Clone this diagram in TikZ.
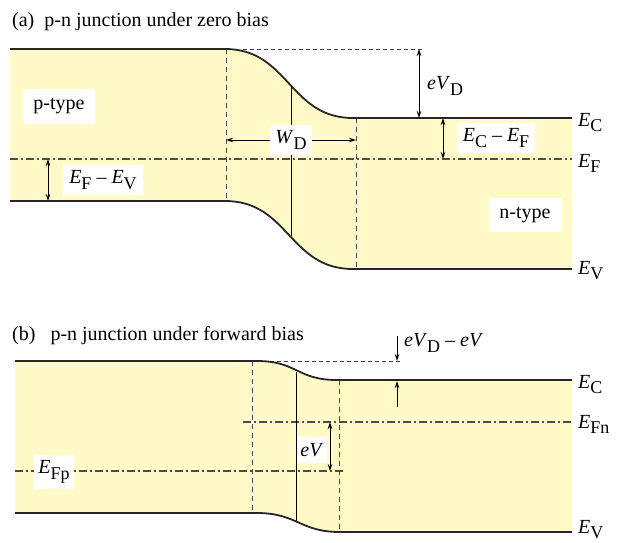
\documentclass[tikz,border=0pt]{standalone}
\usepackage{fontspec}
\setmainfont{Liberation Serif}[Ligatures=TeX]
\usepackage{xcolor}
\usetikzlibrary{arrows.meta}

\definecolor{bandfill}{RGB}{255,250,200}
\newcommand{\lvl}[2]{\textit{#1}\raisebox{-0.6ex}{\fontsize{18}{18}\selectfont #2}}

\begin{document}
\begin{tikzpicture}[x=1pt, y=-1pt,
  every node/.style={font=\rmfamily\fontsize{20}{23}\selectfont, inner sep=0pt},
  band/.style={line width=1.8pt, black!85},
  level/.style={anchor=base west},
  lbl/.style={fill=white, inner xsep=6pt, inner ysep=6pt},
  guide/.style={dash pattern=on 5pt off 4pt, line width=0.8pt, black!70},
  ref/.style={dash pattern=on 4pt off 3pt, line width=0.8pt, black!75},
  fermi/.style={dash pattern=on 8pt off 3pt on 2pt off 3pt, line width=1.1pt, black!70},
  dim/.style={{Stealth[length=7pt,width=4.5pt]}-{Stealth[length=7pt,width=4.5pt]}, line width=0.9pt},
  tip/.style={-{Stealth[length=7pt,width=4.5pt]}, line width=0.9pt}]

  \useasboundingbox (0,0) rectangle (617,542);

  % (a) zero bias
  \node[anchor=base west] (ta) at (12,26) {(a)\ \ p-n junction under zero bias};

  \coordinate (aC0) at (10,49);  \coordinate (aC1) at (225,49);
  \coordinate (aC2) at (353,118); \coordinate (aC3) at (572,118);
  \coordinate (aV0) at (10,201);  \coordinate (aV1) at (225,201);
  \coordinate (aV2) at (353,269); \coordinate (aV3) at (572,269);

  \fill[bandfill] (aC0) -- (aC1) .. controls +(64,0) and +(-64,0) .. (aC2) -- (aC3)
    -- (aV3) -- (aV2) .. controls +(-64,0) and +(64,0) .. (aV1) -- (aV0) -- cycle;

  \draw[fermi] (10,159) coordinate (aF0) -- (572,159) coordinate (aF3);
  \draw[guide] (226,49) coordinate (aL0) -- (226,201) coordinate (aL1);
  \draw[guide] (356,118) coordinate (aR0) -- (356,269) coordinate (aR1);
  \draw[line width=0.9pt] (291,85) coordinate (aJ0) -- (291,236) coordinate (aJ1);
  \draw[ref] (243,49) coordinate (aD0) -- (422,49) coordinate (aD1);

  \draw[band] (aC0) -- (aC1) .. controls +(64,0) and +(-64,0) .. (aC2) -- (aC3);
  \draw[band] (aV0) -- (aV1) .. controls +(64,0) and +(-64,0) .. (aV2) -- (aV3);

  \node[lbl, minimum width=72pt, minimum height=35pt] (ptype) at (59,106) {p-type};
  \node[lbl, minimum width=73pt, minimum height=34pt] (ntype) at (525,215) {n-type};
  \node[lbl] (efev) at (103,180) {\lvl{E}{F} \textendash{} \lvl{E}{V}};
  \node[lbl] (ecef) at (496,138) {\lvl{E}{C} \textendash{} \lvl{E}{F}};
  \node[lbl, inner xsep=5pt] (wd) at (291,140) {\lvl{W}{D}};
  \node[anchor=west] (evd) at (427,86) {\lvl{eV}{D}};

  \coordinate (aWl) at (226,140); \coordinate (aWr) at (356,140);
  \draw[tip] (wd.west) -- (aWl);
  \draw[tip] (wd.east) -- (aWr);
  \draw[dim] (419,49) coordinate (aU0) -- (419,118) coordinate (aU1);
  \draw[dim] (443,118) coordinate (aN0) -- (443,159) coordinate (aN1);
  \draw[dim] (48,159) coordinate (aP0) -- (48,201) coordinate (aP1);

  \node[level] (aEC) at (578,126) {\lvl{E}{C}};
  \node[level] (aEF) at (578,167) {\lvl{E}{F}};
  \node[level] (aEV) at (578,274) {\lvl{E}{V}};

  % (b) forward bias
  \node[anchor=base west] (tb) at (12,340) {(b)\ \ \ p-n junction under forward bias};

  \coordinate (bC0) at (15,361);  \coordinate (bC1) at (257,361);
  \coordinate (bC2) at (337,380); \coordinate (bC3) at (572,380);
  \coordinate (bV0) at (15,513);  \coordinate (bV1) at (257,513);
  \coordinate (bV2) at (340,532); \coordinate (bV3) at (572,532);

  \fill[bandfill] (bC0) -- (bC1) .. controls +(40,0) and +(-40,0) .. (bC2) -- (bC3)
    -- (bV3) -- (bV2) .. controls +(-40,0) and +(40,0) .. (bV1) -- (bV0) -- cycle;

  \draw[fermi] (243,422) coordinate (bN0) -- (572,422) coordinate (bN1);
  \draw[fermi] (15,471) coordinate (bP0) -- (343,471) coordinate (bP1);
  \draw[guide] (252,361) coordinate (bL0) -- (252,513) coordinate (bL1);
  \draw[guide] (339,380) coordinate (bR0) -- (339,532) coordinate (bR1);
  \draw[line width=0.9pt] (296,372) coordinate (bJ0) -- (296,522) coordinate (bJ1);
  \draw[ref] (270,361) coordinate (bD0) -- (402,361) coordinate (bD1);

  \draw[band] (bC0) -- (bC1) .. controls +(40,0) and +(-40,0) .. (bC2) -- (bC3);
  \draw[band] (bV0) -- (bV1) .. controls +(40,0) and +(-40,0) .. (bV2) -- (bV3);

  \node[lbl, inner xsep=4pt] (efp) at (54,472) {\lvl{E}{Fp}};
  \node[lbl, inner xsep=3pt] (ev) at (312,450) {\textit{eV}};
  \node[anchor=west] (evdev) at (404,343) {\lvl{eV}{D} \textendash{} \textit{eV}};

  \draw[dim] (330,422) coordinate (bE0) -- (330,471) coordinate (bE1);
  \coordinate (bA0) at (397,336); \coordinate (bA1) at (397,361);
  \coordinate (bB0) at (397,407); \coordinate (bB1) at (397,381);
  \draw[tip] (bA0) -- (bA1);
  \draw[tip] (bB0) -- (bB1);

  \node[level] (bEC) at (578,388) {\lvl{E}{C}};
  \node[level] (bEFn) at (578,428) {\lvl{E}{Fn}};
  \node[level] (bEV) at (578,533) {\lvl{E}{V}};
\end{tikzpicture}
\end{document}
